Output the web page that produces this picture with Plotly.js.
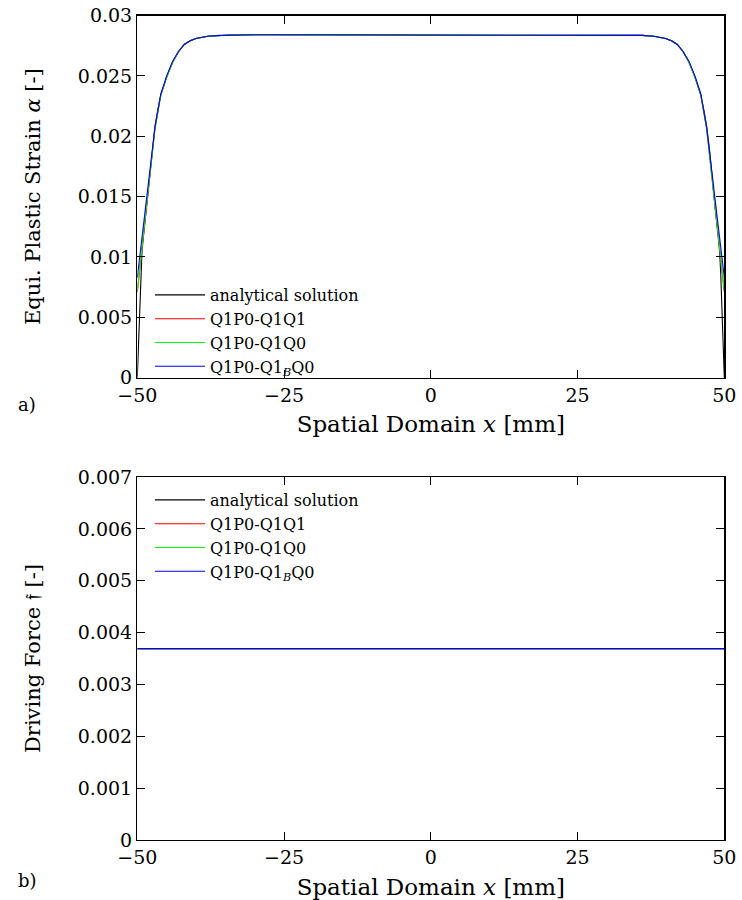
<!DOCTYPE html>
<html>
<head>
<meta charset="utf-8">
<script src="https://cdn.plot.ly/plotly-3.0.1.min.js"></script>
<style>html,body{margin:0;padding:0;background:#fff;}#chart{width:742px;height:900px;}</style>
</head>
<body>
<div id="chart"></div>
<script>
// ---- Data ----
// a) Equivalent plastic strain along the spatial domain
const xA = [-50, -49.8, -49.6, -49.4, -49.2, -49, -48.5, -48, -47.5, -47, -46.5, -46, -45, -44, -43, -42, -41, -40, -38, -36, -34, -30, -20, -10, 0,
            10, 20, 30, 34, 36, 38, 40, 41, 42, 43, 44, 45, 46, 46.5, 47, 47.5, 48, 48.5, 49, 49.2, 49.4, 49.6, 49.8, 50];
const analytical = [0, 0.0025, 0.0055, 0.0085, 0.0105, 0.0115, 0.0138, 0.0160, 0.0188, 0.0208, 0.0222, 0.0234, 0.0249, 0.0261, 0.0270, 0.0276, 0.0279, 0.0281, 0.02828, 0.02835, 0.02838, 0.0284, 0.0284, 0.0284, 0.0284,
            0.0284, 0.0284, 0.0284, 0.02838, 0.02835, 0.02828, 0.0281, 0.0279, 0.0276, 0.0270, 0.0261, 0.0249, 0.0234, 0.0222, 0.0208, 0.0188, 0.0160, 0.0138, 0.0115, 0.0105, 0.0085, 0.0055, 0.0025, 0];
const xNum = [-50, -49, -48, -47, -46, -45, -44, -43, -42, -41, -40, -38, -36, -34, -30, -20, -10, 0,
              10, 20, 30, 34, 36, 38, 40, 41, 42, 43, 44, 45, 46, 47, 48, 49, 50];
const q1p0_q1q1 = [0.0071, 0.0119, 0.0161, 0.0206, 0.0234, 0.0249, 0.0261, 0.0270, 0.0276, 0.0279, 0.0281, 0.02828, 0.02835, 0.02838, 0.0284, 0.0284, 0.0284, 0.0284,
              0.0284, 0.0284, 0.0284, 0.02838, 0.02835, 0.02828, 0.0281, 0.0279, 0.0276, 0.0270, 0.0261, 0.0249, 0.0234, 0.0206, 0.0161, 0.0119, 0.0071];
const q1p0_q1q0 = [0.0072, 0.0120, 0.0162, 0.0206, 0.0234, 0.0249, 0.0261, 0.0270, 0.0276, 0.0279, 0.0281, 0.02828, 0.02835, 0.02838, 0.0284, 0.0284, 0.0284, 0.0284,
              0.0284, 0.0284, 0.0284, 0.02838, 0.02835, 0.02828, 0.0281, 0.0279, 0.0276, 0.0270, 0.0261, 0.0249, 0.0234, 0.0206, 0.0162, 0.0120, 0.0072];
const q1p0_q1bq0 = [0.0083, 0.0126, 0.0165, 0.0207, 0.0235, 0.0250, 0.0262, 0.0270, 0.0276, 0.0279, 0.0281, 0.02828, 0.02835, 0.02838, 0.0284, 0.0284, 0.0284, 0.0284,
              0.0284, 0.0284, 0.0284, 0.02838, 0.02835, 0.02828, 0.0281, 0.0279, 0.0276, 0.0270, 0.0262, 0.0250, 0.0235, 0.0207, 0.0165, 0.0126, 0.0083];

// b) Driving force along the spatial domain (constant)
const xB = [-50, -25, 0, 25, 50];
const forceAnalytical = [0.00369, 0.00369, 0.00369, 0.00369, 0.00369];
const forceQ1Q1 = [0.00369, 0.00369, 0.00369, 0.00369, 0.00369];
const forceQ1Q0 = [0.00369, 0.00369, 0.00369, 0.00369, 0.00369];
const forceQ1BQ0 = [0.00369, 0.00369, 0.00369, 0.00369, 0.00369];

const seriesNames = ['analytical solution', 'Q1P0-Q1Q1', 'Q1P0-Q1Q0', 'Q1P0-Q1<sub><i>B</i></sub>Q0'];
const xTickVals = [-50, -25, 0, 25, 50];

// ---- Styling ----
const colors = ['#000000', '#ff0000', '#00ff00', '#0000ff'];
const FONT = 'DejaVu Serif, Liberation Serif, serif';
const lw = 1.1;

const traces = [];
const aY = [analytical, q1p0_q1q1, q1p0_q1q0, q1p0_q1bq0];
const aX = [xA, xNum, xNum, xNum];
for (let i = 0; i < 4; i++) {
  traces.push({x: aX[i], y: aY[i], type: 'scatter', mode: 'lines', name: seriesNames[i],
    line: {color: colors[i], width: lw}, xaxis: 'x', yaxis: 'y', legend: 'legend'});
}
const bY = [forceAnalytical, forceQ1Q1, forceQ1Q0, forceQ1BQ0];
for (let i = 0; i < 4; i++) {
  traces.push({x: xB, y: bY[i], type: 'scatter', mode: 'lines', name: seriesNames[i],
    line: {color: colors[i], width: lw}, xaxis: 'x2', yaxis: 'y2', legend: 'legend2'});
}

const axisCommon = {
  showgrid: false, zeroline: false, showline: true, linecolor: '#000', linewidth: 1.3,
  mirror: 'ticks', ticks: 'inside', ticklen: 8, tickwidth: 1, tickcolor: '#000',
  tickfont: {family: FONT, size: 19, color: '#000'}
};
const xd = [137.3 / 742, 724.3 / 742];
const xTitleFont = {family: FONT, size: 23, color: '#000'};
const yTitleFont = {family: FONT, size: 21, color: '#000'};

const layout = {
  width: 742, height: 900,
  margin: {l: 0, r: 0, t: 0, b: 0},
  paper_bgcolor: '#fff', plot_bgcolor: '#fff',
  font: {family: FONT, color: '#000'},
  xaxis: Object.assign({}, axisCommon, {
    domain: xd, anchor: 'y', range: [-50, 50], tickvals: xTickVals,
    title: {text: 'Spatial Domain <i>x</i> [mm]', font: xTitleFont, standoff: 11}
  }),
  yaxis: Object.assign({}, axisCommon, {
    domain: [(900 - 377.7) / 900, (900 - 15.5) / 900], anchor: 'x', range: [0, 0.03], dtick: 0.005,
    title: {text: 'Equi. Plastic Strain <i>α</i> [-]', font: yTitleFont, standoff: 31}
  }),
  xaxis2: Object.assign({}, axisCommon, {
    domain: xd, anchor: 'y2', range: [-50, 50], tickvals: xTickVals,
    title: {text: 'Spatial Domain <i>x</i> [mm]', font: xTitleFont, standoff: 11}
  }),
  yaxis2: Object.assign({}, axisCommon, {
    domain: [(900 - 840) / 900, (900 - 477) / 900], anchor: 'x2', range: [0, 0.007], dtick: 0.001,
    title: {text: 'Driving Force 𝔣 [-]', font: yTitleFont, standoff: 31}
  }),
  legend: {x: 150 / 742, y: 1 - 278 / 900, xanchor: 'left', yanchor: 'top', bgcolor: 'rgba(0,0,0,0)',
    font: {family: FONT, size: 16}, itemwidth: 50, tracegroupgap: 0},
  legend2: {x: 150 / 742, y: 1 - 483 / 900, xanchor: 'left', yanchor: 'top', bgcolor: 'rgba(0,0,0,0)',
    font: {family: FONT, size: 16}, itemwidth: 50, tracegroupgap: 0},
  annotations: [
    {text: 'a)', xref: 'paper', yref: 'paper', x: 27 / 742, y: 1 - 404 / 900, showarrow: false,
      font: {family: FONT, size: 18}, xanchor: 'center', yanchor: 'middle'},
    {text: 'b)', xref: 'paper', yref: 'paper', x: 27 / 742, y: 1 - 880 / 900, showarrow: false,
      font: {family: FONT, size: 18}, xanchor: 'center', yanchor: 'middle'}
  ]
};

Plotly.newPlot('chart', traces, layout, {displayModeBar: false, staticPlot: true});
</script>
</body>
</html>
